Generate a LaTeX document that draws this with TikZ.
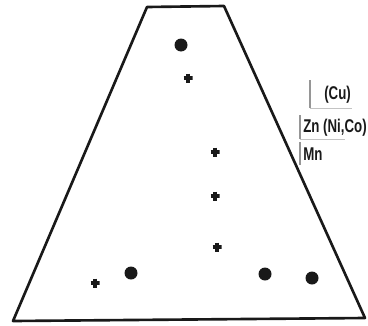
\documentclass[tikz,border=0pt]{standalone}
\usepackage{fontspec}
\setsansfont{Liberation Sans}
\usepackage{tikz}
\definecolor{inkBlack}{RGB}{25, 25, 25}
\definecolor{inkGrey}{RGB}{150, 150, 150}
\definecolor{inkPale}{RGB}{195, 195, 195}

\tikzset{
  dot/.style={circle, fill=inkBlack, inner sep=0pt, minimum size=0.26cm},
  plus/.style={inner sep=0pt, minimum size=0.18cm,
    path picture={\draw[inkBlack, line width=2pt]
      (path picture bounding box.north) -- (path picture bounding box.south)
      (path picture bounding box.west) -- (path picture bounding box.east);}},
  elem/.style={font=\sffamily\bfseries\fontsize{10.5}{12}\selectfont, xscale=0.72,
    inner sep=0pt, anchor=west, text=inkBlack}
}

\begin{document}
\begin{tikzpicture}[x=0.02cm, y=-0.02cm]
      \useasboundingbox (0,0) rectangle (368,325);
      % outline of the field
      \draw[inkBlack, line width=1.5pt, line join=round]
        (13,321) -- (147,7) -- (224,6) -- (365,318) -- cycle;

      % dots
      \node[dot] (d1) at (181,45) {};
      \node[dot] (d2) at (131,273) {};
      \node[dot] (d3) at (265,274) {};
      \node[dot] (d4) at (312,278) {};

      % crosses
      \node[plus] (p1) at (188,78) {};
      \node[plus] (p2) at (215,152) {};
      \node[plus] (p3) at (215,196) {};
      \node[plus] (p4) at (217,247) {};
      \node[plus] (p5) at (95,283) {};

      % element labels
      \node[elem] (cu) at (324,95) {(Cu)};
      \node[elem] (zn) at (303,128) {Zn (Ni,Co)};
      \node[elem] (mn) at (303,154) {Mn};

      \draw[inkGrey, line width=0.6pt] (310,80) -- (310,108);
      \draw[inkPale, line width=0.5pt] (310,108) -- (352,108);
      \draw[inkGrey, line width=0.6pt] (300,115) -- (300,139);
      \draw[inkPale, line width=0.5pt] (300,139) -- (345,139);
      \draw[inkGrey, line width=0.6pt] (300,142) -- (300,165);
    \end{tikzpicture}
\end{document}
